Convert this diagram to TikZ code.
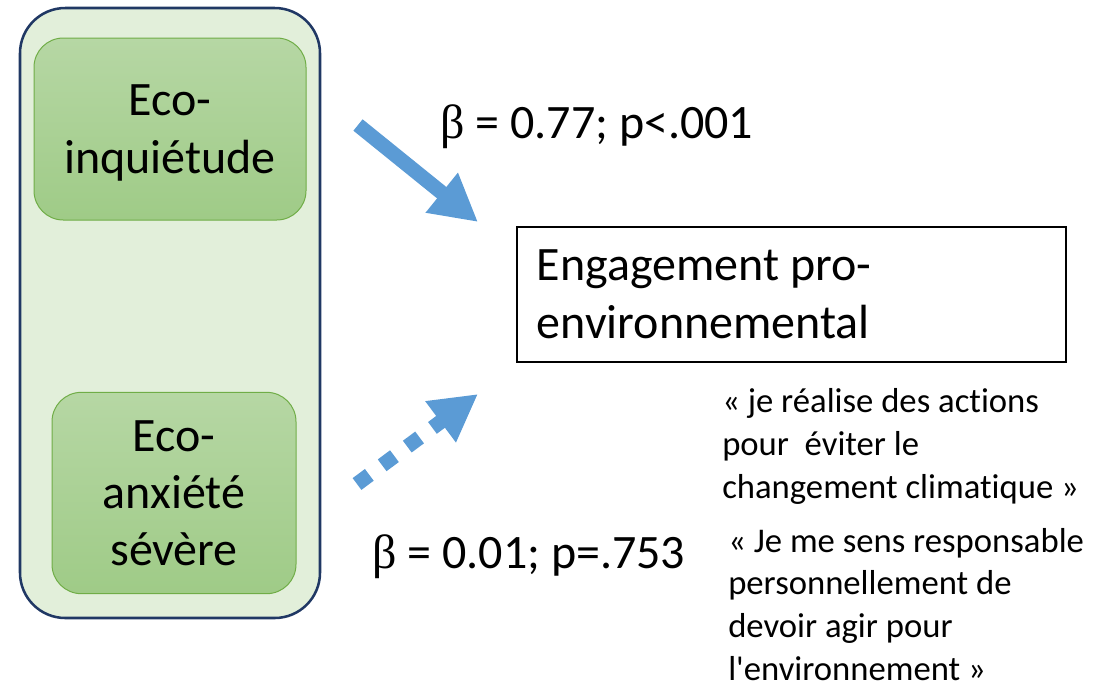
\documentclass[tikz,border=0pt]{standalone}
\usepackage{fontspec}
\setmainfont{Carlito}[Ligatures=NoCommon]
\newfontfamily\grk{Liberation Serif}
\usetikzlibrary{arrows.meta}

\definecolor{groupfill}{HTML}{E2EFDA}
\definecolor{groupline}{HTML}{203864}
\definecolor{leaftop}{HTML}{B6D7A4}
\definecolor{leafbot}{HTML}{9FCB87}
\definecolor{leafline}{HTML}{70AD47}
\definecolor{arrowblue}{HTML}{5B9BD5}

\begin{document}
\begin{tikzpicture}[x=0.75pt,y=-0.75pt,
  group/.style={draw=groupline, line width=1.9pt, fill=groupfill, rounded corners=34pt},
  factor/.style={draw=leafline, line width=0.75pt, top color=leaftop, bottom color=leafbot,
    rounded corners=22pt, align=center, text depth=0pt, font=\fontsize{36}{43}\selectfont},
  outcome/.style={draw, line width=1.1pt, align=flush left, inner xsep=15pt,
    text width=382pt, minimum height=101pt, font=\fontsize{36}{43.5}\selectfont},
  coef/.style={anchor=base west, inner sep=0pt, font=\fontsize{36}{40}\selectfont},
  quote/.style={anchor=base west, inner sep=0pt, align=left, font=\fontsize{26}{32}\selectfont},
  effect/.style={draw=arrowblue, line width=11pt, -{Triangle[length=35pt,width=36pt]}},
  noeffect/.style={effect, dash pattern=on 11.5pt off 12pt}]
  \useasboundingbox (0,0) rectangle (1120,687);

  % predictors
  \node (group) [group, minimum width=225pt, minimum height=457.5pt] at (170,313) {};
  \node (inq) [factor, minimum width=204pt, minimum height=136.5pt] at (170,129) {Eco-\\inquiétude};
  \node (anx) [factor, minimum width=183pt, minimum height=151pt] at (174,493) {Eco-\\anxiété\\sévère};

  % outcome
  \node (eng) [outcome] at (791.5,294.5) {Engagement pro-\\environnemental};

  % coefficients
  \node (b1) [coef] at (440,138) {{\grk β} = 0.77; p<.001};
  \node (b2) [coef] at (372,568) {{\grk β} = 0.01; p=.753};

  % items (anchored at the last line)
  \node (q1) [quote] at (722,498) {« je réalise des actions\\pour\ \ éviter le\\changement climatique »};
  \node (q2) [quote] at (728,680) {« Je me sens responsable\\personnellement de\\devoir agir pour\\l\textquotesingle environnement »};

  % paths
  \coordinate (s1) at (358,125);
  \coordinate (e1) at (478,222);
  \coordinate (s2) at (357,484);
  \coordinate (e2) at (478,394);
  \path (s1) edge [effect]   (e1)
        (s2) edge [noeffect] (e2);
\end{tikzpicture}
\end{document}
